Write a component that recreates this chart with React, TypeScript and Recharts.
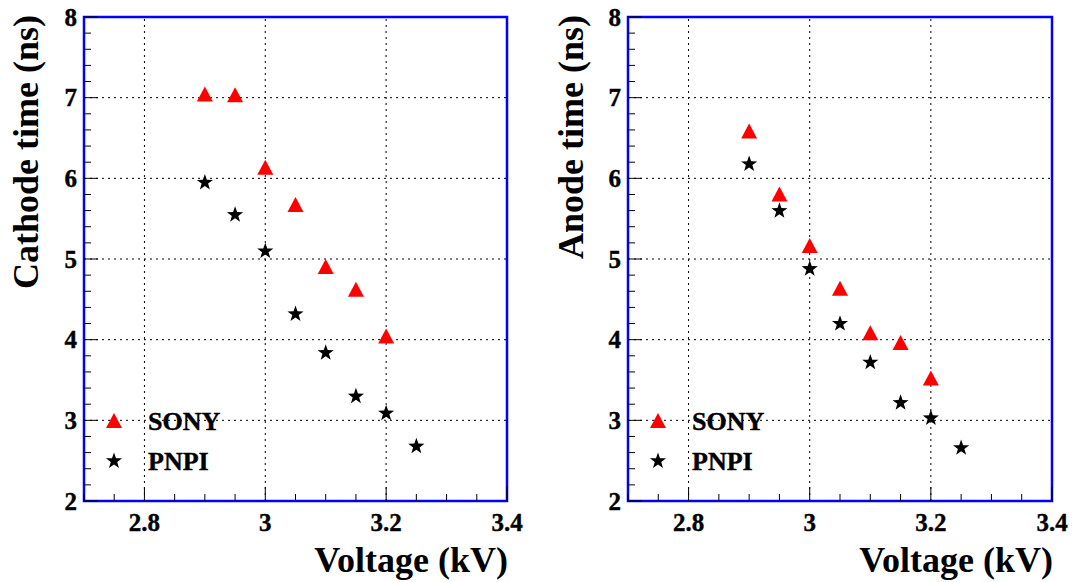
import React from "react";
import {
  ScatterChart,
  Scatter,
  XAxis,
  YAxis,
  ReferenceLine,
  ReferenceArea,
} from "recharts";

// values
const sonyVoltage = [2.9, 2.95, 3.0, 3.05, 3.1, 3.15, 3.2];
const pnpiVoltage = [2.9, 2.95, 3.0, 3.05, 3.1, 3.15, 3.2, 3.25];
const cathodeSony = [7.04, 7.03, 6.13, 5.67, 4.9, 4.62, 4.04];
const cathodePnpi = [5.96, 5.56, 5.11, 4.33, 3.85, 3.31, 3.1, 2.69];
const anodeSony = [6.58, 5.8, 5.16, 4.63, 4.08, 3.96, 3.52];
const anodePnpi = [6.19, 5.61, 4.89, 4.21, 3.73, 3.23, 3.04, 2.67];

const xMajor = [2.8, 3.0, 3.2, 3.4];
const xMinor = [2.7, 2.75, 2.85, 2.9, 2.95, 3.05, 3.1, 3.15, 3.25, 3.3, 3.35];
const yMajor = [2, 3, 4, 5, 6, 7, 8];
const yMinor = [
  2.2, 2.4, 2.6, 2.8, 3.2, 3.4, 3.6, 3.8, 4.2, 4.4, 4.6, 4.8, 5.2, 5.4, 5.6, 5.8,
  6.2, 6.4, 6.6, 6.8, 7.2, 7.4, 7.6, 7.8,
];
const xGrid = [2.8, 3.0, 3.2];
const yGrid = [3, 4, 5, 6, 7];
const legendNames = ["SONY", "PNPI"];

const FONT = "'Liberation Serif', 'Times New Roman', serif";

const toPoints = (xs: number[], ys: number[]) => ys.map((y, i) => ({ x: xs[i], y }));

const isMajor = (v: number, list: number[]) => list.some((m) => Math.abs(m - v) < 1e-6);

function Triangle(props: any) {
  const { cx, cy } = props;
  if (cx == null || cy == null) return null;
  return <polygon points={`${cx},${cy - 8} ${cx + 8},${cy + 7} ${cx - 8},${cy + 7}`} fill="#ff0000" />;
}

function starPath(cx: number, cy: number, R: number, r: number) {
  let d = "";
  for (let i = 0; i < 10; i++) {
    const rad = i % 2 === 0 ? R : r;
    const a = -Math.PI / 2 + (i * Math.PI) / 5;
    d += (i === 0 ? "M" : "L") + (cx + rad * Math.cos(a)).toFixed(2) + "," + (cy + rad * Math.sin(a)).toFixed(2);
  }
  return d + "Z";
}

function Star(props: any) {
  const { cx, cy } = props;
  if (cx == null || cy == null) return null;
  return <path d={starPath(cx, cy + 1, 8.5, 3.4)} fill="#000" />;
}

function XTick(props: any) {
  const { x, y, payload } = props;
  const major = isMajor(payload.value, xMajor);
  return (
    <g>
      <line x1={x} x2={x} y1={y} y2={y - (major ? 14 : 7)} stroke="#000" strokeWidth={1} />
      {major && (
        <text x={x} y={y + 30} textAnchor="middle" fontFamily={FONT} fontWeight="bold" fontSize={25}
          fill="#000" stroke="#000" strokeWidth={0.4}>
          {Number(payload.value.toFixed(1)).toString()}
        </text>
      )}
    </g>
  );
}

function YTick(props: any) {
  const { x, y, payload } = props;
  const major = isMajor(payload.value, yMajor);
  return (
    <g>
      <line x1={x} x2={x + (major ? 14 : 7)} y1={y} y2={y} stroke="#000" strokeWidth={1} />
      {major && (
        <text x={x - 7} y={y + 8.5} textAnchor="end" fontFamily={FONT} fontWeight="bold" fontSize={25}
          fill="#000" stroke="#000" strokeWidth={0.4}>
          {payload.value}
        </text>
      )}
    </g>
  );
}

function LegendBox(props: { left: number }) {
  return (
    <svg
      width={200}
      height={90}
      style={{ position: "absolute", left: props.left, top: 400, display: "block", pointerEvents: "none" }}
    >
      <Triangle cx={18} cy={21} />
      <text x={52} y={30} fontFamily={FONT} fontWeight="bold" fontSize={26} fill="#000" stroke="#000" strokeWidth={0.4}>{legendNames[0]}</text>
      <Star cx={18} cy={60} />
      <text x={52} y={70} fontFamily={FONT} fontWeight="bold" fontSize={26} fill="#000" stroke="#000" strokeWidth={0.4}>{legendNames[1]}</text>
    </svg>
  );
}

function Panel(props: {
  title: string;
  sony: number[];
  pnpi: number[];
  yAxisWidth: number;
  rightMargin: number;
  titleX: number;
}) {
  const { title, sony, pnpi, yAxisWidth, rightMargin, titleX } = props;
  return (
    <div style={{ position: "relative", width: 536, height: 582 }}>
      <ScatterChart width={536} height={582} margin={{ top: 17, right: rightMargin, bottom: 0, left: 0 }}>
        <XAxis
          type="number"
          dataKey="x"
          domain={[2.7, 3.4]}
          ticks={[...xMajor, ...xMinor].sort((a, b) => a - b)}
          allowDataOverflow
          height={81}
          tickSize={0}
          tickMargin={0}
          axisLine={false}
          tickLine={false}
          tick={<XTick />}
          interval={0}
          label={(p: any) => {
            const vb = p.viewBox;
            return (
              <text x={vb.x + vb.width + 1} y={vb.y + 71} textAnchor="end" fontFamily={FONT} fontWeight="bold" fontSize={36} fill="#000">
                Voltage (kV)
              </text>
            );
          }}
        />
        <YAxis
          type="number"
          dataKey="y"
          domain={[2, 8]}
          ticks={[...yMajor, ...yMinor].sort((a, b) => a - b)}
          allowDataOverflow
          width={yAxisWidth}
          tickSize={0}
          tickMargin={0}
          axisLine={false}
          tickLine={false}
          tick={<YTick />}
          interval={0}
          label={(p: any) => {
            const vb = p.viewBox;
            return (
              <text
                x={titleX}
                y={vb.y - 2}
                transform={`rotate(-90 ${titleX} ${vb.y - 2})`}
                textAnchor="end"
                fontFamily={FONT}
                fontWeight="bold"
                fontSize={36}
                fill="#000"
              >
                {title}
              </text>
            );
          }}
        />
        {xGrid.map((v) => (
          <ReferenceLine key={"gx" + v} x={v} stroke="#000" strokeWidth={1} strokeDasharray="2 4" />
        ))}
        {yGrid.map((v) => (
          <ReferenceLine key={"gy" + v} y={v} stroke="#000" strokeWidth={1} strokeDasharray="2 4" />
        ))}
        <ReferenceArea x1={2.7} x2={3.4} y1={2} y2={8} fill="none" stroke="#0000ff" strokeWidth={2.5} />
        <Scatter name="SONY" data={toPoints(sonyVoltage, sony)} shape={<Triangle />} isAnimationActive={false} />
        <Scatter name="PNPI" data={toPoints(pnpiVoltage, pnpi)} shape={<Star />} isAnimationActive={false} />
      </ScatterChart>
      <LegendBox left={yAxisWidth + 12} />
    </div>
  );
}

export default function App() {
  return (
    <div style={{ position: "absolute", left: 0, top: 0, width: 1072, height: 582, background: "#fff", display: "flex" }}>
      <Panel title="Cathode time (ns)" sony={cathodeSony} pnpi={cathodePnpi} yAxisWidth={84} rightMargin={29} titleX={38} />
      <Panel title="Anode time (ns)" sony={anodeSony} pnpi={anodePnpi} yAxisWidth={92} rightMargin={20} titleX={47} />
    </div>
  );
}
